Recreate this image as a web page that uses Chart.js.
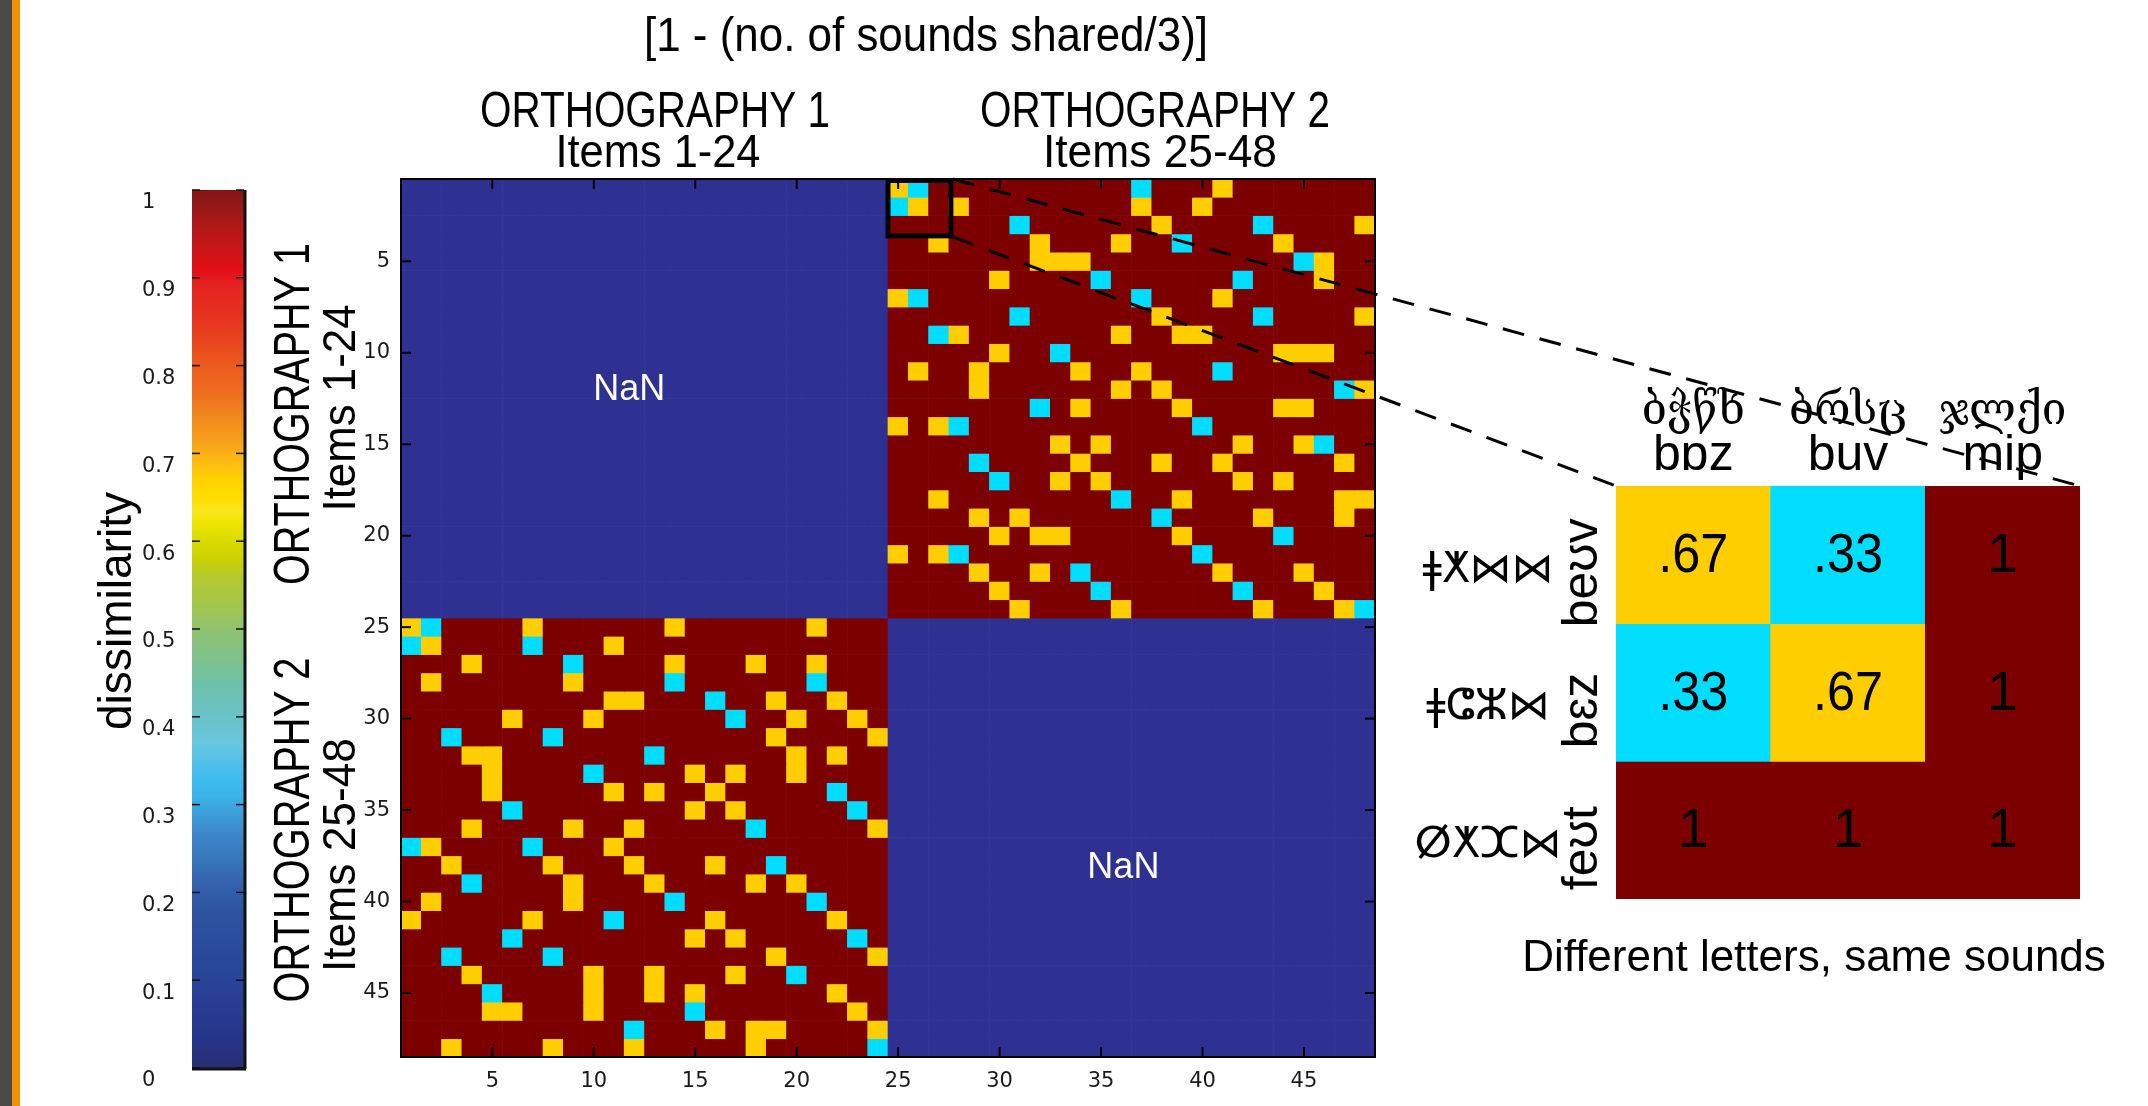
<!DOCTYPE html>
<html>
<head>
<meta charset="utf-8">
<script src="https://cdn.jsdelivr.net/npm/chart.js@4.4.1/dist/chart.umd.min.js"></script>
<style>
html, body { margin: 0; padding: 0; background: #fff; }
#page { position: relative; width: 2148px; height: 1106px; overflow: hidden; background: #fff; }
#page canvas { position: absolute; left: 0; top: 0; }
#edge { position: absolute; left: 0; top: 0; width: 12px; height: 1106px; background: #4a4a4a; border-right: 8px solid #f39200; }
</style>
</head>
<body>
<div id="page">
  <div id="edge"></div>
  <canvas id="matrixChart" width="2148" height="1106"></canvas>
  <canvas id="barChart" width="2148" height="1106"></canvas>
  <canvas id="insetChart" width="2148" height="1106"></canvas>
</div>
<script>
// item numbers 1..48 (orthography 1 = 1-24, orthography 2 = 25-48)
const itemLabels = Array.from({length: 48}, (_, i) => String(i + 1));
const tickValues = [5, 10, 15, 20, 25, 30, 35, 40, 45];

// dissimilarity between orthographies: rows = items 25-48, columns = items 1-24
// (the top-right block is the same table transposed; within-orthography blocks are NaN)
const crossDissim = [
  [.67,.33,1,1,1,1,.67,1,1,1,1,1,1,.67,1,1,1,1,1,1,.67,1,1,1],
  [.33,.67,1,1,1,1,.33,1,1,1,.67,1,1,1,1,1,1,1,1,1,1,1,1,1],
  [1,1,1,.67,1,1,1,1,.33,1,1,1,1,.67,1,1,1,.67,1,1,.67,1,1,1],
  [1,.67,1,1,1,1,1,1,.67,1,1,1,1,.33,1,1,1,1,1,1,.33,1,1,1],
  [1,1,1,1,1,1,1,1,1,1,.67,.67,1,1,1,.33,1,1,.67,1,1,.67,1,1],
  [1,1,1,1,1,.67,1,1,1,.67,1,1,1,1,1,1,.33,1,1,.67,1,1,.67,1],
  [1,1,.33,1,1,1,1,.33,1,1,1,1,1,1,1,1,1,1,.67,1,1,1,1,.67],
  [1,1,1,.67,.67,1,1,1,1,1,1,1,.33,1,1,1,1,1,1,.67,1,.67,1,1],
  [1,1,1,1,.67,1,1,1,1,.33,1,1,1,1,.67,1,.67,1,1,.67,1,1,1,1],
  [1,1,1,1,.67,1,1,1,1,1,.67,1,.67,1,1,.67,1,1,1,1,1,.33,1,1],
  [1,1,1,1,1,.33,1,1,1,1,1,1,1,1,.67,1,.67,1,1,1,1,1,.33,1],
  [1,1,1,.67,1,1,1,1,.67,1,1,.67,1,1,1,1,1,.33,1,1,1,1,1,.67],
  [.33,.67,1,1,1,1,.33,1,1,1,.67,1,1,1,1,1,1,1,1,1,1,1,1,1],
  [1,1,.67,1,1,1,1,.67,1,1,1,.67,1,1,1,.67,1,1,.33,1,1,1,1,1],
  [1,1,1,.33,1,1,1,1,.67,1,1,1,.67,1,1,1,1,.67,1,.67,1,1,1,1],
  [1,.67,1,1,1,1,1,1,.67,1,1,1,1,.33,1,1,1,1,1,1,.33,1,1,1],
  [.67,1,1,1,1,1,.67,1,1,1,.33,1,1,1,1,.67,1,1,1,1,1,.67,1,1],
  [1,1,1,1,1,.33,1,1,1,1,1,1,1,1,.67,1,.67,1,1,1,1,1,.33,1],
  [1,1,.33,1,1,1,1,.33,1,1,1,1,1,1,1,1,1,1,.67,1,1,1,1,.67],
  [1,1,1,.67,1,1,1,1,1,.67,1,1,.67,1,1,1,.67,1,1,.33,1,1,1,1],
  [1,1,1,1,.33,1,1,1,1,.67,1,1,.67,1,.67,1,1,1,1,1,1,.67,1,1],
  [1,1,1,1,.67,.67,1,1,1,.67,1,1,1,1,.33,1,1,1,1,1,1,1,.67,1],
  [1,1,1,1,1,1,1,1,1,1,1,.33,1,1,1,.67,1,.67,.67,1,1,1,1,.67],
  [1,1,.67,1,1,1,1,.67,1,1,1,.67,1,1,1,1,1,.67,1,1,1,1,1,.33]
];

// colorbar
const colorbarTicks = [0, 0.1, 0.2, 0.3, 0.4, 0.5, 0.6, 0.7, 0.8, 0.9, 1];
const colorbarStops = [
  [0.00, '#2a2e70'], [0.03, '#263488'], [0.08, '#283e94'], [0.13, '#2a4a9c'],
  [0.18, '#2e54a0'], [0.21, '#3462ac'], [0.24, '#3878bc'], [0.27, '#3e8acc'],
  [0.29, '#3c9ed8'], [0.31, '#3ab4ea'], [0.33, '#3cbcee'], [0.35, '#55c0e8'],
  [0.37, '#68c6de'], [0.40, '#6ac2c8'], [0.44, '#6ec0a6'], [0.47, '#80c288'],
  [0.50, '#90c270'], [0.53, '#a6c648'], [0.56, '#b5c82e'], [0.58, '#ccd200'],
  [0.60, '#dada00'], [0.62, '#eee500'], [0.635, '#fae71c'], [0.65, '#ffdd00'],
  [0.67, '#ffd200'], [0.69, '#fdbb12'], [0.71, '#f7a41a'], [0.74, '#f18a1c'],
  [0.77, '#ee6c1f'], [0.80, '#ec5b1e'], [0.83, '#e8441f'], [0.86, '#e6311f'],
  [0.89, '#e62421'], [0.91, '#e10e17'], [0.93, '#cc1519'], [0.96, '#b01818'],
  [0.98, '#961818'], [1.00, '#801515']
];

// zoomed example
const insetCols = ['bɒz', 'buv', 'mip'];
const insetColScript = ['ბჭწხ', 'ბრსც', 'ჯლქი'];
const insetRows = ['beʊv', 'bɛz', 'feʊt'];
const insetRowScript = ['ǂⵅ⋈⋈', 'ǂⵛⵣ⋈', 'ⵁⵅⵋ⋈'];
const insetValues = [
  [.67, .33, 1],
  [.33, .67, 1],
  [1, 1, 1]
];

const SANS = "'Liberation Sans', Arial, sans-serif";
const TICK_FONT = {family: "'DejaVu Sans', sans-serif", size: 21};

function cellColor(v) {
  if (v === null) return '#2e3192';
  if (v < 0.5) return '#00ddff';
  if (v < 0.9) return '#ffce00';
  return '#7c0000';
}

function fmtValue(v) {
  return v === 1 ? '1' : '.' + Math.round(v * 100);
}

function drawLabel(ctx, t) {
  ctx.save();
  ctx.translate(t.x, t.y);
  if (t.rotate) ctx.rotate(t.rotate);
  ctx.font = t.size + 'px ' + (t.family || SANS);
  ctx.fillStyle = t.color || '#000';
  ctx.textAlign = t.align || 'center';
  ctx.textBaseline = t.baseline || 'middle';
  if (t.maxWidth) ctx.fillText(t.text, 0, 0, t.maxWidth);
  else ctx.fillText(t.text, 0, 0);
  ctx.restore();
}

function line(ctx, x0, y0, x1, y1) {
  ctx.beginPath();
  ctx.moveTo(x0, y0);
  ctx.lineTo(x1, y1);
  ctx.stroke();
}

// full 48x48 table, null on the within-orthography blocks
const fullMatrix = [];
for (let r = 0; r < 48; r++) {
  const row = [];
  for (let c = 0; c < 48; c++) {
    if ((r < 24) === (c < 24)) row.push(null);
    else if (r >= 24) row.push(crossDissim[r - 24][c]);
    else row.push(crossDissim[c - 24][r]);
  }
  fullMatrix.push(row);
}

const UP = -Math.PI / 2;
const pageTexts = [
  {text: '[1 - (no. of sounds shared/3)]', x: 926, y: 38, size: 48, maxWidth: 564},
  {text: 'ORTHOGRAPHY 1', x: 655, y: 113, size: 50, maxWidth: 350},
  {text: 'Items 1-24', x: 658, y: 154, size: 46, maxWidth: 205},
  {text: 'ORTHOGRAPHY 2', x: 1155, y: 113, size: 50, maxWidth: 350},
  {text: 'Items 25-48', x: 1160, y: 154, size: 46, maxWidth: 234},
  {text: 'ORTHOGRAPHY 1', x: 295, y: 414, size: 50, maxWidth: 342, rotate: UP},
  {text: 'Items 1-24', x: 342, y: 408, size: 46, maxWidth: 207, rotate: UP},
  {text: 'ORTHOGRAPHY 2', x: 295, y: 830, size: 50, maxWidth: 345, rotate: UP},
  {text: 'Items 25-48', x: 342, y: 855, size: 46, maxWidth: 234, rotate: UP}
];

let zoomBox = null;

const matrixDecor = {
  id: 'matrixDecor',
  afterDatasetsDraw(chart) {
    const {ctx, chartArea: a, scales: {x, y}} = chart;
    ctx.save();
    drawLabel(ctx, {text: 'NaN', x: x.getPixelForValue(10.75), y: y.getPixelForValue(12.05), size: 36, color: '#fff'});
    drawLabel(ctx, {text: 'NaN', x: x.getPixelForValue(35.1), y: y.getPixelForValue(38.15), size: 36, color: '#fff'});

    ctx.strokeStyle = '#000';
    ctx.lineWidth = 2;
    ctx.strokeRect(a.left, a.top, a.right - a.left, a.bottom - a.top);
    tickValues.forEach(v => {
      const px = x.getPixelForValue(v - 1);
      line(ctx, px, a.bottom, px, a.bottom - 10);
      line(ctx, px, a.top, px, a.top + 10);
      const py = y.getPixelForValue(v);
      line(ctx, a.left, py, a.left + 10, py);
      line(ctx, a.right, py, a.right - 10, py);
    });

    // highlighted 3x3 block (items 1-3 vs 25-27)
    const sx0 = x.getPixelForValue(23.5), sx1 = x.getPixelForValue(26.5);
    const sy0 = y.getPixelForValue(0.5), sy1 = y.getPixelForValue(3.5);
    ctx.lineWidth = 5;
    ctx.strokeRect(sx0, sy0 + 1.5, sx1 - sx0 + 2, sy1 - sy0 + 0.5);
    zoomBox = {right: sx1 + 4, top: sy0, bottom: sy1 + 3};
    ctx.restore();
  },
  afterDraw(chart) {
    pageTexts.forEach(t => drawLabel(chart.ctx, t));
  }
};

const matrixChart = new Chart(document.getElementById('matrixChart'), {
  type: 'bar',
  data: {
    labels: itemLabels,
    datasets: fullMatrix.map((row, r) => ({
      label: itemLabels[r],
      data: row.map(() => [r + 0.5, r + 1.5]),
      backgroundColor: row.map(cellColor),
      borderWidth: 0,
      barPercentage: 1,
      categoryPercentage: 1,
      grouped: false
    }))
  },
  options: {
    responsive: false,
    animation: false,
    events: [],
    layout: {padding: {left: 341, top: 179, right: 773, bottom: 0}},
    plugins: {legend: {display: false}, tooltip: {enabled: false}},
    scales: {
      x: {
        grid: {display: false, drawTicks: false},
        border: {display: false},
        ticks: {
          autoSkip: false, maxRotation: 0, padding: 12, color: '#1a1a1a', font: TICK_FONT,
          callback: (v, i) => tickValues.includes(i + 1) ? itemLabels[i] : ''
        },
        afterFit: s => { s.height = 49; }
      },
      y: {
        type: 'linear', reverse: true, min: 0.5, max: 48.5,
        grid: {display: false, drawTicks: false},
        border: {display: false},
        afterBuildTicks: s => { s.ticks = tickValues.map(v => ({value: v})); },
        ticks: {padding: 11, color: '#1a1a1a', font: TICK_FONT},
        afterFit: s => { s.width = 60; }
      }
    }
  },
  plugins: [matrixDecor]
});

const colorbarDecor = {
  id: 'colorbarDecor',
  afterDatasetsDraw(chart) {
    const {ctx, chartArea: a, scales: {y}} = chart;
    ctx.save();
    ctx.strokeStyle = '#111';
    ctx.lineWidth = 1.5;
    colorbarTicks.forEach(v => {
      const py = y.getPixelForValue(v);
      line(ctx, a.left, py, a.left + 8, py);
      line(ctx, a.right, py, a.right - 8, py);
    });
    ctx.lineWidth = 3;
    line(ctx, a.right + 1, a.top, a.right + 1, a.bottom + 1);
    line(ctx, a.left, a.bottom + 1, a.right + 2, a.bottom + 1);
    ctx.restore();
    drawLabel(ctx, {text: 'dissimilarity', x: 118, y: 611, size: 47, maxWidth: 238, rotate: UP});
  }
};

new Chart(document.getElementById('barChart'), {
  type: 'bar',
  data: {
    labels: ['dissimilarity'],
    datasets: [{
      data: [[colorbarTicks[0], colorbarTicks[colorbarTicks.length - 1]]],
      backgroundColor: c => {
        const {chart} = c;
        const ys = chart.scales.y;
        if (!chart.chartArea || !ys) return '#888';
        const g = chart.ctx.createLinearGradient(0, ys.getPixelForValue(0), 0, ys.getPixelForValue(1));
        colorbarStops.forEach(([v, col]) => g.addColorStop(v, col));
        return g;
      },
      borderWidth: 0,
      barPercentage: 1,
      categoryPercentage: 1
    }]
  },
  options: {
    responsive: false,
    animation: false,
    events: [],
    layout: {padding: {left: 142, right: 1904, top: 190, bottom: 38}},
    plugins: {legend: {display: false}, tooltip: {enabled: false}},
    scales: {
      x: {display: false},
      y: {
        min: 0, max: 1,
        grid: {display: false, drawTicks: false},
        border: {display: false},
        afterBuildTicks: s => { s.ticks = colorbarTicks.map(v => ({value: v})); },
        ticks: {crossAlign: 'far', padding: 0, labelOffset: 13, color: '#1a1a1a', font: TICK_FONT, callback: v => String(v)},
        afterFit: s => { s.width = 50; }
      }
    }
  },
  plugins: [colorbarDecor]
});

const insetDecor = {
  id: 'insetDecor',
  afterDatasetsDraw(chart) {
    const {ctx, scales: {x, y}} = chart;
    insetValues.forEach((row, r) => row.forEach((v, c) => {
      drawLabel(ctx, {text: fmtValue(v), x: x.getPixelForValue(c), y: y.getPixelForValue(r + 1) + 2, size: 55, maxWidth: 70});
    }));
  },
  afterDraw(chart) {
    const {ctx, chartArea: a, scales: {x, y}} = chart;
    insetCols.forEach((name, c) => {
      const px = x.getPixelForValue(c);
      drawLabel(ctx, {text: insetColScript[c], x: px, y: 413, size: 44, family: "'DejaVu Serif', 'DejaVu Sans', serif"});
      drawLabel(ctx, {text: name, x: px, y: 470, size: 50, baseline: 'alphabetic'});
    });
    insetRows.forEach((name, r) => {
      const py = y.getPixelForValue(r + 1);
      drawLabel(ctx, {text: name, x: 1583, y: py + 18, size: 50, rotate: UP});
      drawLabel(ctx, {text: insetRowScript[r], x: 1488, y: py + 16, size: 42, family: "'DejaVu Sans', 'Noto Sans', sans-serif"});
    });
    drawLabel(ctx, {text: 'Different letters, same sounds', x: 1814, y: 959, size: 44, maxWidth: 592});

    // dashed guides from the highlighted block to the enlarged view
    if (zoomBox) {
      ctx.save();
      ctx.strokeStyle = '#000';
      ctx.lineWidth = 3;
      ctx.setLineDash([22, 16]);
      line(ctx, zoomBox.right, zoomBox.top, a.right, a.top);
      line(ctx, zoomBox.right, zoomBox.bottom, a.left, a.top);
      ctx.restore();
    }
  }
};

new Chart(document.getElementById('insetChart'), {
  type: 'bar',
  data: {
    labels: insetCols,
    datasets: insetValues.map((row, r) => ({
      label: insetRows[r],
      data: row.map(() => [r + 0.5, r + 1.5]),
      backgroundColor: row.map(cellColor),
      borderWidth: 0,
      barPercentage: 1,
      categoryPercentage: 1,
      grouped: false
    }))
  },
  options: {
    responsive: false,
    animation: false,
    events: [],
    layout: {padding: {left: 1616, top: 486, right: 68, bottom: 207}},
    plugins: {legend: {display: false}, tooltip: {enabled: false}},
    scales: {
      x: {display: false},
      y: {display: false, type: 'linear', reverse: true, min: 0.5, max: 3.5}
    }
  },
  plugins: [insetDecor]
});
</script>
</body>
</html>
